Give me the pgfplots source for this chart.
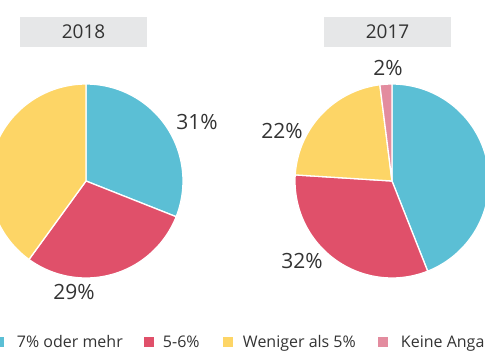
\documentclass[border=0pt]{standalone}
\usepackage{fontspec}
\setmainfont{Open Sans}
\usepackage{pgfplots}
\pgfplotsset{compat=1.18}
\definecolor{cyanC}{HTML}{5BBFD5}
\definecolor{redC}{HTML}{E0506A}
\definecolor{yellowC}{HTML}{FDD566}
\definecolor{pinkC}{HTML}{E38C9F}
\definecolor{boxC}{HTML}{E6E7E8}
\definecolor{txtC}{HTML}{333333}
% slice: center x, center y, cumulative start %, cumulative end %, colour
\newcommand{\slice}[5]{%
  \addplot[fill=#5, draw=white, line width=1.3pt, line join=round, domain={90-3.6*(#4)}:{90-3.6*(#3)}, samples=80, variable=\t, forget plot]
    ({#1+97*cos(\t)},{#2+97*sin(\t)}) -- (axis cs:#1,#2) -- cycle;
}
\begin{document}
\begin{tikzpicture}
\path[use as bounding box, clip] (0,0) rectangle (485pt,360pt);
\begin{axis}[
  at={(0,0)}, anchor=south west,
  width=485pt, height=360pt, scale only axis,
  xmin=0, xmax=485, ymin=0, ymax=360,
  hide axis, clip=false,
  legend image code/.code={\path[#1,draw=none] (0pt,-5pt) rectangle (10pt,5pt);},
  legend style={at={(axis cs:-6,18)}, anchor=west, draw=none, fill=none,
    inner sep=0pt, outer sep=0pt, nodes={inner sep=0pt, outer sep=0pt},
    font=\fontsize{16}{19}\selectfont,
    text=txtC,
    legend columns=-1,
    /tikz/every odd column/.append style={column sep=0pt},
    /tikz/every even column/.append style={column sep=0pt}},
]
% 2018: 31, 29, 40
\slice{86}{179}{0}{31}{cyanC}
\slice{86}{179}{31}{60}{redC}
\slice{86}{179}{60}{100}{yellowC}
% 2017: 44, 32, 22, 2
\slice{392}{179}{0}{44}{cyanC}
\slice{392}{179}{44}{76}{redC}
\slice{392}{179}{76}{98}{yellowC}
\slice{392}{179}{98}{100}{pinkC}

\addlegendimage{fill=cyanC}
\addlegendentry{\hspace*{13pt}\makebox[127pt][l]{7\% oder mehr}}
\addlegendimage{fill=redC}
\addlegendentry{\hspace*{9pt}\makebox[60pt][l]{5-6\%}}
\addlegendimage{fill=yellowC}
\addlegendentry{\hspace*{10pt}\makebox[135pt][l]{Weniger als 5\%}}
\addlegendimage{fill=pinkC}
\addlegendentry{\hspace*{13pt}Keine Angabe}

% title boxes
\fill[boxC] (axis cs:20,313) rectangle (axis cs:147,343);
\node[font=\fontsize{19}{22}\selectfont, text=txtC] at (axis cs:83.5,328) {2018};
\fill[boxC] (axis cs:324,313) rectangle (axis cs:451,343);
\node[font=\fontsize{19}{22}\selectfont, text=txtC] at (axis cs:387.5,328) {2017};

% labels
\node[font=\fontsize{21}{25}\selectfont, text=txtC] at (axis cs:197,238) {31\%};
\node[font=\fontsize{21}{25}\selectfont, text=txtC] at (axis cs:74,68) {29\%};
\node[font=\fontsize{21}{25}\selectfont, text=txtC] at (axis cs:388,292) {2\%};
\node[font=\fontsize{21}{25}\selectfont, text=txtC] at (axis cs:282,229) {22\%};
\node[font=\fontsize{21}{25}\selectfont, text=txtC] at (axis cs:302,99) {32\%};
\end{axis}
\end{tikzpicture}
\end{document}
